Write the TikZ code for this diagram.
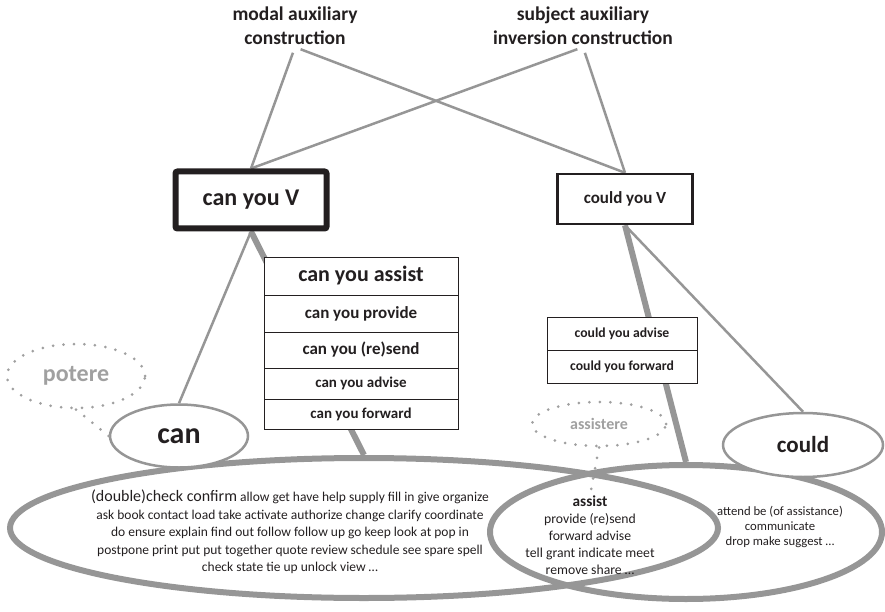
\documentclass[tikz,border=0pt]{standalone}
\usepackage{fontspec}
\setmainfont{Carlito}
\usetikzlibrary{shapes.geometric,positioning,backgrounds}
\definecolor{linegray}{RGB}{150,150,150}
\definecolor{dotgray}{RGB}{160,160,160}
\definecolor{ink}{RGB}{35,31,32}
\tikzset{
head/.style={font=\bfseries\fontsize{19.5}{24}\selectfont,align=center,inner sep=2pt},
verbbox/.style={draw=ink,fill=white,inner sep=0pt},
stackrow/.style={draw=ink,fill=white,inner sep=0pt,line width=1pt},
lemma/.style={ellipse,draw=linegray,line width=2.5pt,fill=white,inner sep=0pt},
latin/.style={ellipse,draw=dotgray,line width=3pt,dash pattern=on 0pt off 10.5pt,line cap=round,text=dotgray,inner sep=0pt},
verbset/.style={ellipse,draw=linegray,line width=6pt,inner sep=0pt},
link/.style={linegray,line width=2.5pt},
heavy link/.style={linegray,line width=6pt},
dot link/.style={dotgray,line width=3pt,dash pattern=on 0pt off 10.5pt,line cap=round},
verbs/.style={align=center,inner sep=0pt},
}

\begin{document}
\begin{tikzpicture}[x=1pt,y=-1pt,text=ink]
\useasboundingbox (0,0) rectangle (885,612);
% constructions
\node[head] (modal) at (295,26) {modal auxiliary\\construction};
\node[head] (sai) at (583,26) {subject auxiliary\\inversion construction};
% patterns
\node[verbbox,line width=6pt,rounded corners=2pt,minimum width=151pt,minimum height=57pt,
  font=\bfseries\fontsize{24}{24}\selectfont] (canV) at (251,200) {can you V};
\node[verbbox,line width=2.5pt,minimum width=135pt,minimum height=50pt,
  font=\bfseries\fontsize{17}{17}\selectfont] (couldV) at (625,199) {could you V};
\foreach \i/\yc/\rh/\sz/\vb in {1/276/38/22/assist,2/313.5/37/17/provide,3/350/36/17/(re)send,4/383.5/31/15/advise,5/414/30/15/forward}
  \node[stackrow,minimum width=194pt,minimum height=\rh pt,font=\bfseries\fontsize{\sz}{\sz}\selectfont] (can\i) at (361,\yc) {can you \vb};
\foreach \i/\yc/\vb in {1/333.5/advise,2/366.5/forward}
  \node[stackrow,minimum width=150pt,minimum height=33pt,font=\bfseries\fontsize{13.7}{13.7}\selectfont] (could\i) at (622,\yc) {could you \vb};
% verb classes
\node[verbset,minimum width=708pt,minimum height=140pt] (bigL) at (364,528) {};
\node[verbset,minimum width=392pt,minimum height=134pt] (bigR) at (686,532) {};
\node[lemma,minimum width=138pt,minimum height=63pt,font=\bfseries\fontsize{30}{30}\selectfont] (can) at (179,436) {can};
\node[lemma,minimum width=160pt,minimum height=64pt,font=\bfseries\fontsize{23}{23}\selectfont] (could) at (803,445) {could};
\node[latin,minimum width=138pt,minimum height=64pt,font=\bfseries\fontsize{24}{24}\selectfont] (potere) at (76,376) {potere};
\node[latin,minimum width=134pt,minimum height=44pt,font=\bfseries\fontsize{16}{16}\selectfont] (assistere) at (599,424) {assistere};
\node[verbs,font=\fontsize{13.5}{17.5}\selectfont] (restL) at (290,532)
  {{\fontsize{16}{17.5}\selectfont (double)check confirm} allow get have help supply fill in give organize\\
   ask book contact load take activate authorize change clarify coordinate\\
   do ensure explain find out follow follow up go keep look at pop in\\
   postpone print put put together quote review schedule see spare spell\\
   check state tie up unlock view …};
\node[verbs,font=\fontsize{13.7}{17}\selectfont] (shared) at (590,535)
  {{\bfseries\fontsize{15.3}{17}\selectfont assist}\\ provide (re)send\\ forward advise\\
   tell grant indicate meet\\ remove share …};
\node[verbs,font=\fontsize{12.7}{15}\selectfont] (restR) at (780,527)
  {attend be (of assistance)\\ communicate\\ drop make suggest …};
% links
\begin{scope}[on background layer]
\draw[link,shorten <=6pt] (modal.south) -- (canV.north);
\draw[link,shorten <=6pt] (modal.south) -- (couldV.north);
\draw[link,shorten <=6pt] (sai.south) -- (canV.north);
\draw[link,shorten <=6pt] (sai.south) -- (couldV.north);
\draw[link] (canV.south) -- (can.north);
\draw[link] (couldV.south) -- (could.north);
\draw[heavy link] (canV.south) -- (bigL.north);
\draw[heavy link] (couldV.south) -- (bigR.north);
\end{scope}
\draw[dot link] (potere.south) -- (can.west);
\draw[dot link,shorten >=6pt] (assistere.south) -- (shared.north);
\end{tikzpicture}
\end{document}
